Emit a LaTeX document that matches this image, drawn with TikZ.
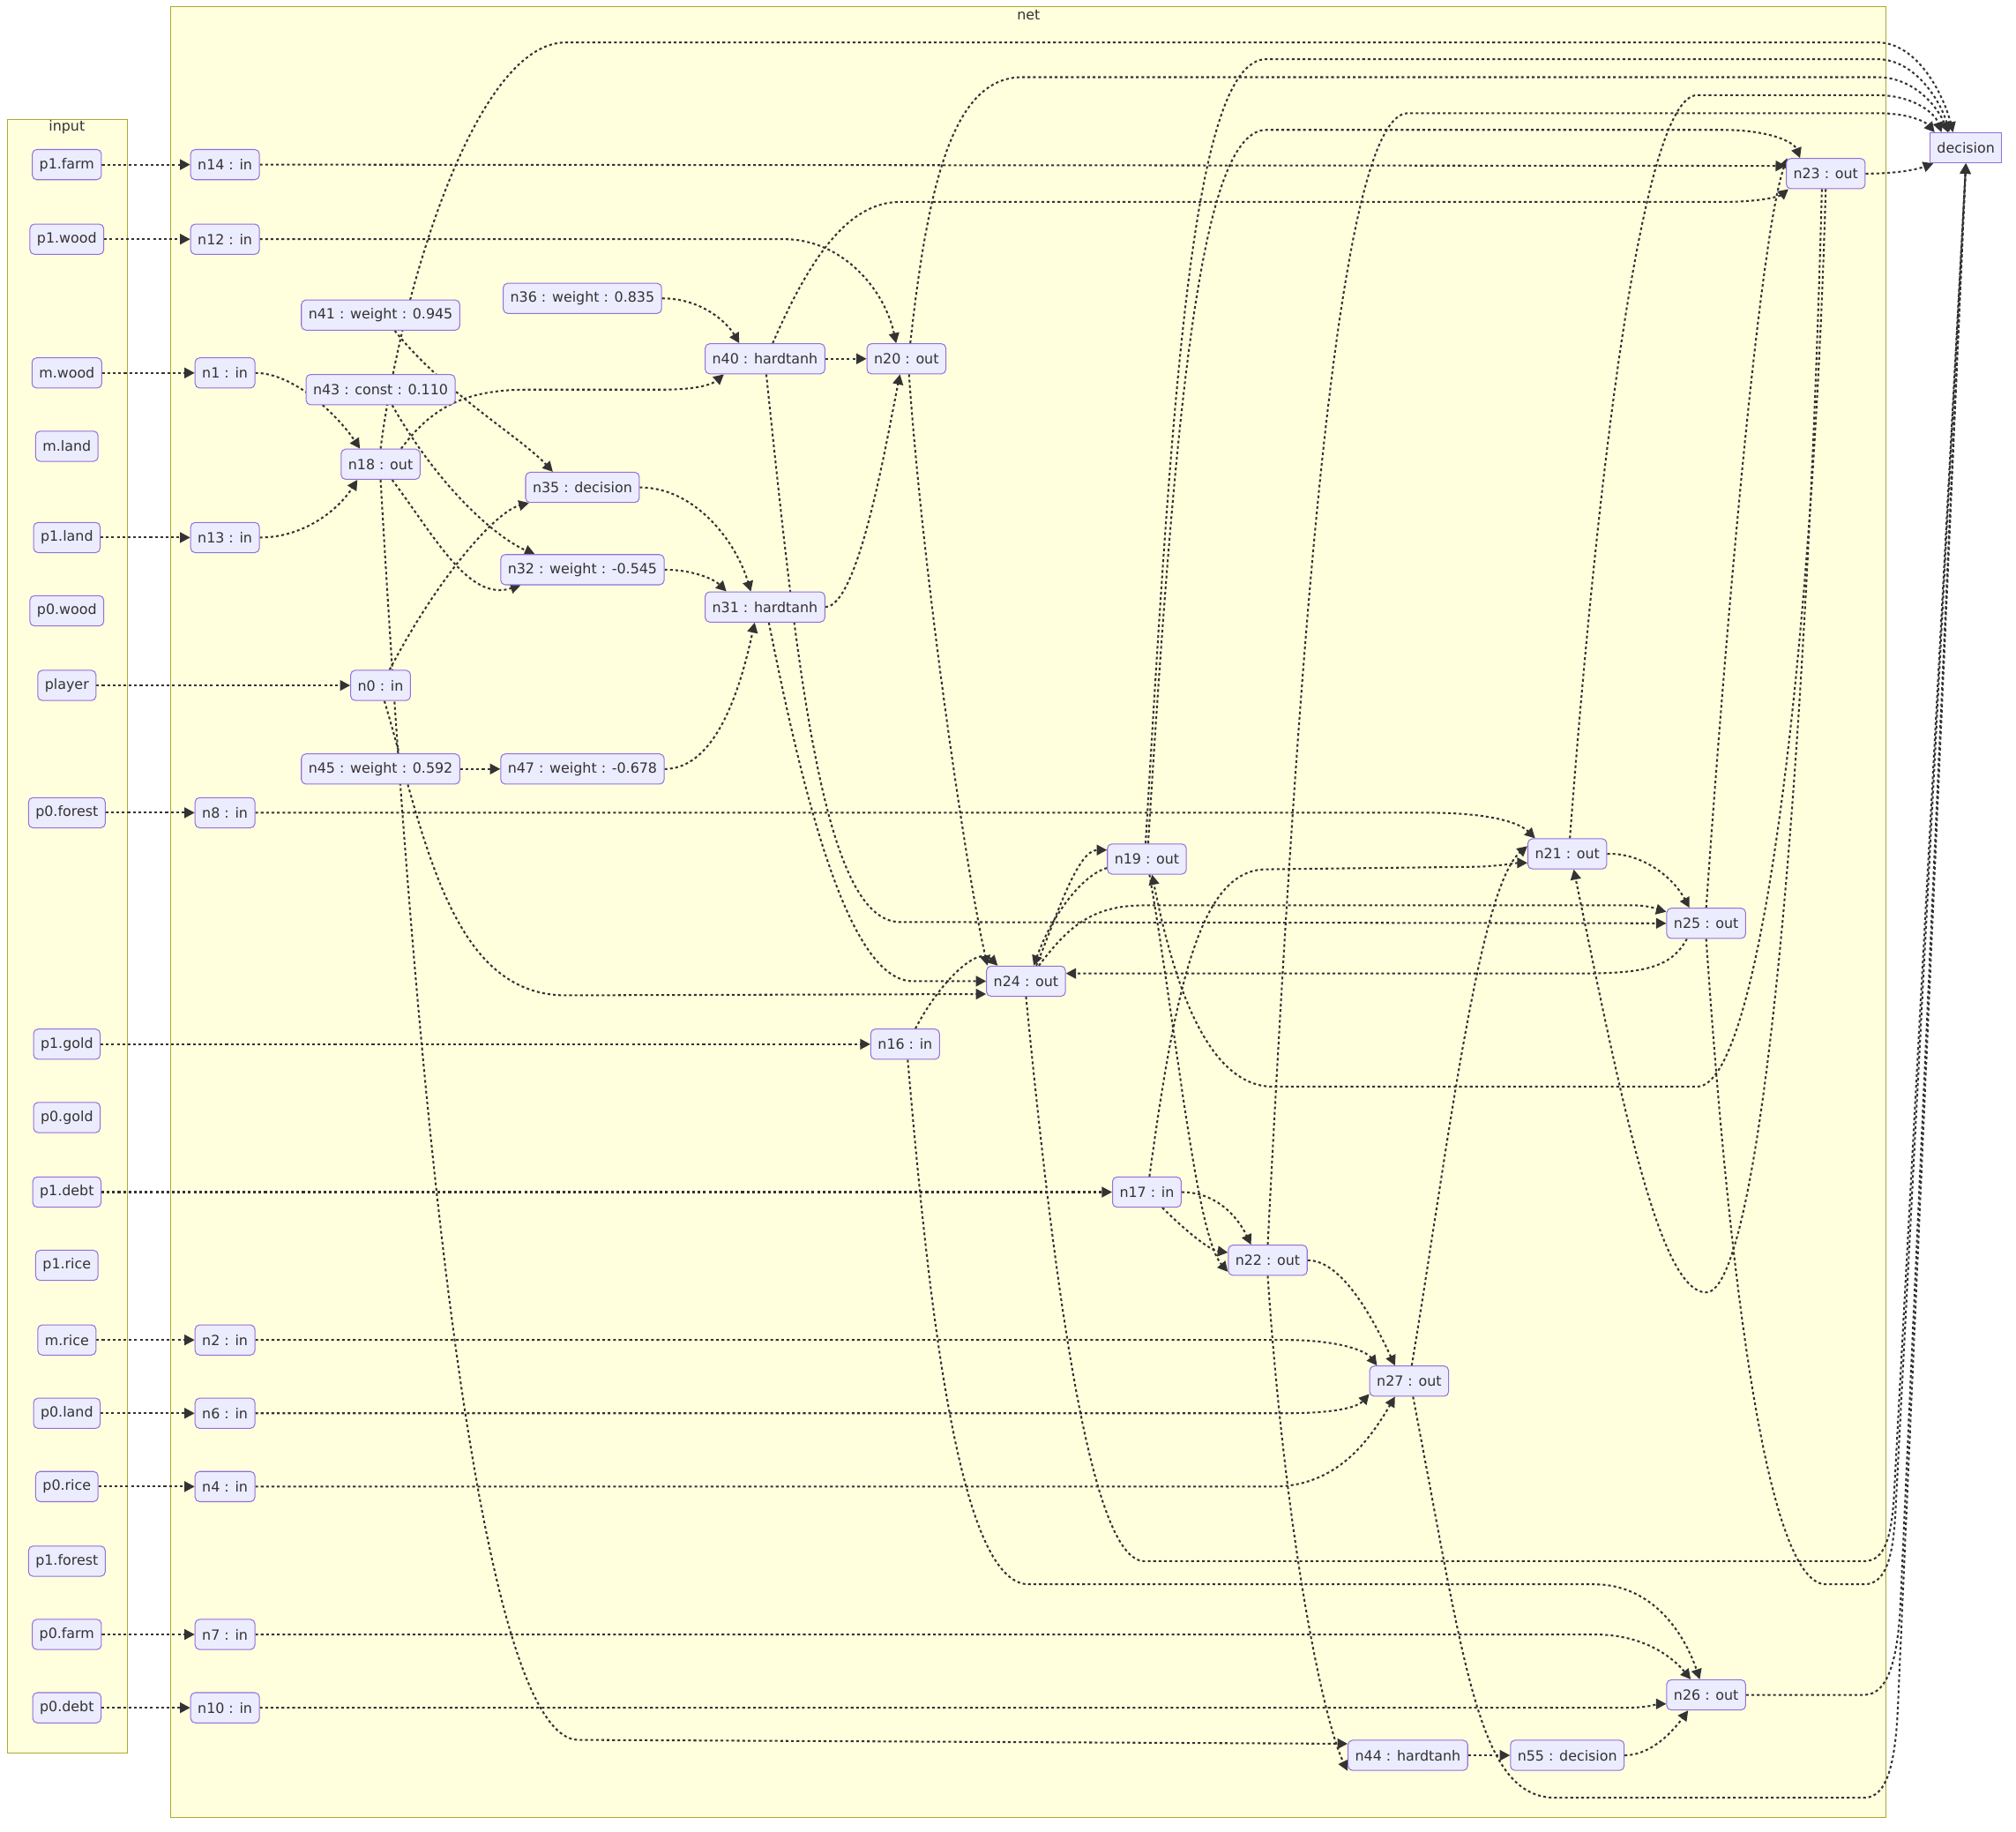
\documentclass[tikz,border=0pt]{standalone}
\usepackage{fontspec}
\setmainfont{DejaVu Sans}
\usetikzlibrary{arrows.meta,calc}
\definecolor{boxfill}{HTML}{ECECFF}
\definecolor{boxline}{HTML}{9370DB}
\definecolor{grpfill}{HTML}{FFFFDE}
\definecolor{grpline}{HTML}{AAAA33}
\definecolor{ink}{HTML}{333333}
\pgfdeclarelayer{back}
\pgfdeclarelayer{wires}
\pgfsetlayers{back,wires,main}

\begin{document}
\begin{tikzpicture}[x=0.02cm,y=-0.02cm,
    op/.style={draw=boxline,fill=boxfill,line width=0.4pt,rounded corners=2pt,text=ink,
      font=\fontsize{6.2}{7.4}\selectfont,inner xsep=0.11cm,inner ysep=0pt,minimum height=0.47cm},
    sink/.style={op,sharp corners},
    grp/.style={draw=grpline,fill=grpfill,line width=0.4pt},
    grplabel/.style={text=ink,font=\fontsize{6.2}{7.4}\selectfont,inner sep=0pt},
    link/.style={draw=ink,line width=0.8pt,dash pattern=on 1.2pt off 1.2pt,
      -{Triangle[length=4.5pt,width=4.6pt]}}]
  \useasboundingbox (0,0) rectangle (1568,1424);

  \begin{pgfonlayer}{back}
    \draw[grp] (6,93) rectangle (99,1363);
    \draw[grp] (133,5) rectangle (1467,1413);
  \end{pgfonlayer}
  \node[grplabel] (lblinput) at (52,99) {input};
  \node[grplabel] (lblnet) at (800,12) {net};

  \foreach \nm/\txt/\y in {p1farm/p1.farm/128, p1wood/p1.wood/186, mwood/m.wood/290,
      mland/m.land/347, p1land/p1.land/418, p0wood/p0.wood/475, player/player/533,
      p0forest/p0.forest/632, p1gold/p1.gold/812, p0gold/p0.gold/869, p1debt/p1.debt/927,
      p1rice/p1.rice/984, mrice/m.rice/1042, p0land/p0.land/1099, p0rice/p0.rice/1156,
      p1forest/p1.forest/1214, p0farm/p0.farm/1271, p0debt/p0.debt/1328} {
    \node[op] (\nm) at (52,\y) {\txt};
  }

  \foreach \nm/\y in {n14/128, n12/186, n1/290, n13/418, n8/632, n2/1042, n6/1099,
      n4/1156, n7/1271, n10/1328} {
    \node[op] (\nm) at (175,\y) {\nm{} : in};
  }
  \node[op] (n0) at (296,533) {n0 : in};
  \node[op] (n16) at (704,812) {n16 : in};
  \node[op] (n17) at (892,927) {n17 : in};

  \node[op] (n41) at (296,245) {n41 : weight : 0.945};
  \node[op] (n43) at (296,303) {n43 : const : 0.110};
  \node[op] (n18) at (296,361) {n18 : out};
  \node[op] (n45) at (296,598) {n45 : weight : 0.592};
  \node[op] (n36) at (453,232) {n36 : weight : 0.835};
  \node[op] (n35) at (453,379) {n35 : decision};
  \node[op] (n32) at (453,443) {n32 : weight : -0.545};
  \node[op] (n47) at (453,598) {n47 : weight : -0.678};
  \node[op] (n40) at (595,279) {n40 : hardtanh};
  \node[op] (n31) at (595,472) {n31 : hardtanh};
  \node[op] (n20) at (705,279) {n20 : out};
  \node[op] (n24) at (798,763) {n24 : out};
  \node[op] (n19) at (892,668) {n19 : out};
  \node[op] (n22) at (986,980) {n22 : out};
  \node[op] (n27) at (1096,1074) {n27 : out};
  \node[op] (n44) at (1095,1365) {n44 : hardtanh};
  \node[op] (n21) at (1219,664) {n21 : out};
  \node[op] (n55) at (1219,1365) {n55 : decision};
  \node[op] (n25) at (1327,718) {n25 : out};
  \node[op] (n26) at (1327,1318) {n26 : out};
  \node[op] (n23) at (1420,135) {n23 : out};
  \node[sink] (dec) at (1529,115) {decision};

  \begin{pgfonlayer}{wires}
    \foreach \a/\b in {p1farm/n14, p1wood/n12, mwood/n1, p1land/n13, player/n0,
        p0forest/n8, p1gold/n16, p1debt/n17, mrice/n2, p0land/n6, p0rice/n4,
        p0farm/n7, p0debt/n10, n40/n20, n45/n47, n44/n55} {
      \draw[link] (\a) -- (\b);
    }

    \draw[link] (n14.east) -- ($(n23.west)+(0,-6)$);
    \draw[link] (n12.east) -- (610,186) .. controls (655,186) and (688,225) .. ($(n20.north)+(-8,0)$);
    \draw[link] (n1.east) .. controls (228,290) and (262,322) .. ($(n18.north)+(-16,0)$);
    \draw[link] (n13.east) .. controls (235,418) and (262,398) .. ($(n18.south)+(-18,0)$);
    \draw[link] ($(n18.north)+(16,0)$) .. controls (335,318) and (360,303) .. (410,303) -- (515,303) .. controls (545,303) and (555,298) .. ($(n40.south)+(-32,0)$);
    \draw[link] ($(n18.south)+(9,0)$) .. controls (340,420) and (365,468) .. ($(n32.south)+(-48,0)$);
    \draw[link] ($(n41.south)+(11,0)$) .. controls (345,305) and (405,340) .. ($(n35.north)+(-23,0)$);
    \draw[link] ($(n43.south)+(9,0)$) .. controls (345,385) and (390,420) .. ($(n32.north)+(-37,0)$);
    \draw[link] ($(n0.north)+(7,0)$) .. controls (340,450) and (385,398) .. ($(n35.south west)+(3,0)$);
    \draw[link] ($(n0.south)+(3,0)$) .. controls (330,650) and (350,774) .. (440,774) -- ($(n24.west)+(0,10)$);
    \draw[link] (n18.north) .. controls (312,225) and (370,33) .. (440,33) -- (1460,33) .. controls (1492,33) and (1512,75) .. ($(dec.north)+(-10,0)$);
    \draw[link] (n18.south) .. controls (315,700) and (360,1353) .. (450,1353) -- ($(n44.west)+(0,-9)$);

    \draw[link] (n36.east) .. controls (545,232) and (565,250) .. ($(n40.north)+(-20,0)$);
    \draw[link] ($(n40.north)+(6,0)$) .. controls (630,200) and (660,157) .. (700,157) -- (1340,157) .. controls (1372,157) and (1385,152) .. ($(n23.south west)+(2,0)$);
    \draw[link] ($(n40.south)+(1,0)$) .. controls (620,520) and (640,717) .. (700,717) -- (n25.west);
    \draw[link] ($(n31.south)+(3,0)$) .. controls (625,620) and (660,763) .. (710,763) -- (n24.west);
    \draw[link] (n35.east) .. controls (540,379) and (572,420) .. ($(n31.north)+(-11,0)$);
    \draw[link] (n32.east) .. controls (538,443) and (555,450) .. ($(n31.north)+(-30,0)$);
    \draw[link] (n47.east) .. controls (560,598) and (578,525) .. ($(n31.south)+(-8,0)$);
    \draw[link] (n31.east) .. controls (668,472) and (690,340) .. ($(n20.south)+(-5,0)$);
    \draw[link] ($(n20.south)+(2,0)$) .. controls (718,450) and (752,680) .. ($(n24.north west)+(1,0)$);
    \draw[link] ($(n20.north)+(3,0)$) .. controls (722,140) and (742,60) .. (795,60) -- (1460,60) .. controls (1490,60) and (1508,85) .. ($(dec.north)+(-14,0)$);

    \draw[link] ($(n16.north)+(8,0)$) .. controls (730,765) and (760,735) .. ($(n24.north west)+(9,0)$);
    \draw[link] ($(n16.south)+(2,0)$) .. controls (722,1010) and (745,1232) .. (800,1232) -- (1240,1232) .. controls (1285,1232) and (1310,1270) .. ($(n26.north)+(-5,0)$);
    \draw[link] (n7.east) -- (1240,1271) .. controls (1280,1271) and (1302,1290) .. ($(n26.north)+(-12,0)$);
    \draw[link] (n10.east) -- (1265,1328) .. controls (1282,1328) and (1290,1325) .. ($(n26.west)+(0,7)$);
    \draw[link] (n55.east) .. controls (1285,1365) and (1302,1345) .. ($(n26.south)+(-14,0)$);

    \draw[link] (n26.east) -- (1450,1318) .. controls (1470,1318) and (1476,1285) .. (1478,1250) -- (dec.south);
    \draw[link] ($(n27.south)+(3,0)$) .. controls (1140,1300) and (1150,1398) .. (1210,1398) -- (1450,1398) .. controls (1468,1398) and (1474,1370) .. (1476,1330) -- (dec.south);
    \draw[link] (n24.south) .. controls (820,1000) and (848,1214) .. (890,1214) -- (1450,1214) .. controls (1466,1214) and (1471,1195) .. (1473,1165) -- (dec.south);
    \draw[link] (n25.south) .. controls (1342,950) and (1370,1232) .. (1420,1232) -- (1450,1232) .. controls (1467,1232) and (1472,1210) .. (1474,1180) -- (dec.south);

    \draw[link] ($(n25.south)+(-15,0)$) .. controls (1300,752) and (1280,757) .. (1230,757) -- ($(n24.east)+(0,-6)$);
    \draw[link] ($(n24.north)+(10,0)$) .. controls (830,722) and (848,704) .. (890,704) -- (1270,704) .. controls (1284,704) and (1292,708) .. ($(n25.west)+(0,-9)$);
    \draw[link] ($(n24.north)+(8,0)$) .. controls (822,712) and (838,661) .. ($(n19.west)+(0,-7)$);
    \draw[link] ($(n19.west)+(0,7)$) .. controls (842,680) and (818,712) .. ($(n24.north)+(6,0)$);

    \draw[link] (n8.east) -- (1110,632) .. controls (1160,632) and (1182,640) .. ($(n21.north west)+(6,0)$);
    \draw[link] ($(n17.north)+(2,0)$) .. controls (915,760) and (935,676) .. (985,676) -- (1150,674) .. controls (1170,673) and (1180,671) .. ($(n21.west)+(0,7)$);
    \draw[link] ($(n27.north)+(2,0)$) .. controls (1125,900) and (1150,690) .. ($(n21.west)+(0,-6)$);
    \draw[link] ($(n23.south)+(-3,0)$) .. controls (1405,600) and (1370,1005) .. (1327,1005) .. controls (1290,1005) and (1260,850) .. ($(n21.south)+(5,0)$);
    \draw[link] (n23.south) .. controls (1410,500) and (1370,845) .. (1320,845) -- (990,845) .. controls (935,845) and (910,750) .. ($(n19.south)+(4,0)$);
    \draw[link] ($(n19.north)+(1,0)$) .. controls (915,300) and (935,101) .. (985,101) -- (1340,101) .. controls (1375,101) and (1395,110) .. ($(n23.north)+(-20,0)$);
    \draw[link] ($(n19.north)+(-1,0)$) .. controls (912,300) and (928,46) .. (985,46) -- (1460,46) .. controls (1490,46) and (1510,80) .. ($(dec.north)+(-13,0)$);
    \draw[link] ($(n19.south)+(2,0)$) .. controls (915,800) and (930,960) .. ($(n22.west)+(0,9)$);

    \draw[link] (n17.east) .. controls (945,927) and (962,945) .. ($(n22.north)+(-13,0)$);
    \draw[link] ($(n17.south)+(12,0)$) .. controls (920,955) and (940,972) .. ($(n22.west)+(0,-6)$);
    \draw[link] (n22.east) .. controls (1045,980) and (1070,1030) .. ($(n27.north)+(-11,0)$);
    \draw[link] (n22.south) .. controls (1000,1200) and (1030,1340) .. (n44.south west);
    \draw[link] (n22.north) .. controls (1010,500) and (1040,88) .. (1095,88) -- (1460,88) .. controls (1485,88) and (1498,95) .. ($(dec.north west)+(4,0)$);
    \draw[link] ($(n21.north)+(2,0)$) .. controls (1240,400) and (1275,74) .. (1320,74) -- (1460,74) .. controls (1488,74) and (1505,88) .. ($(dec.north)+(-19,0)$);
    \draw[link] (n2.east) -- (1000,1042) .. controls (1040,1042) and (1062,1050) .. ($(n27.north)+(-25,0)$);
    \draw[link] (n6.east) -- (1000,1099) .. controls (1035,1099) and (1055,1095) .. ($(n27.west)+(0,10)$);
    \draw[link] (n4.east) -- (990,1156) .. controls (1040,1156) and (1065,1120) .. ($(n27.south)+(-11,0)$);
    \draw[link] (n21.east) .. controls (1275,663) and (1300,680) .. ($(n25.north)+(-13,0)$);
    \draw[link] (n25.north) .. controls (1345,450) and (1370,180) .. ($(n23.north west)+(1,0)$);
    \draw[link] (n23.east) .. controls (1475,135) and (1490,132) .. ($(dec.south west)+(3,0)$);
  \end{pgfonlayer}
\end{tikzpicture}
\end{document}
